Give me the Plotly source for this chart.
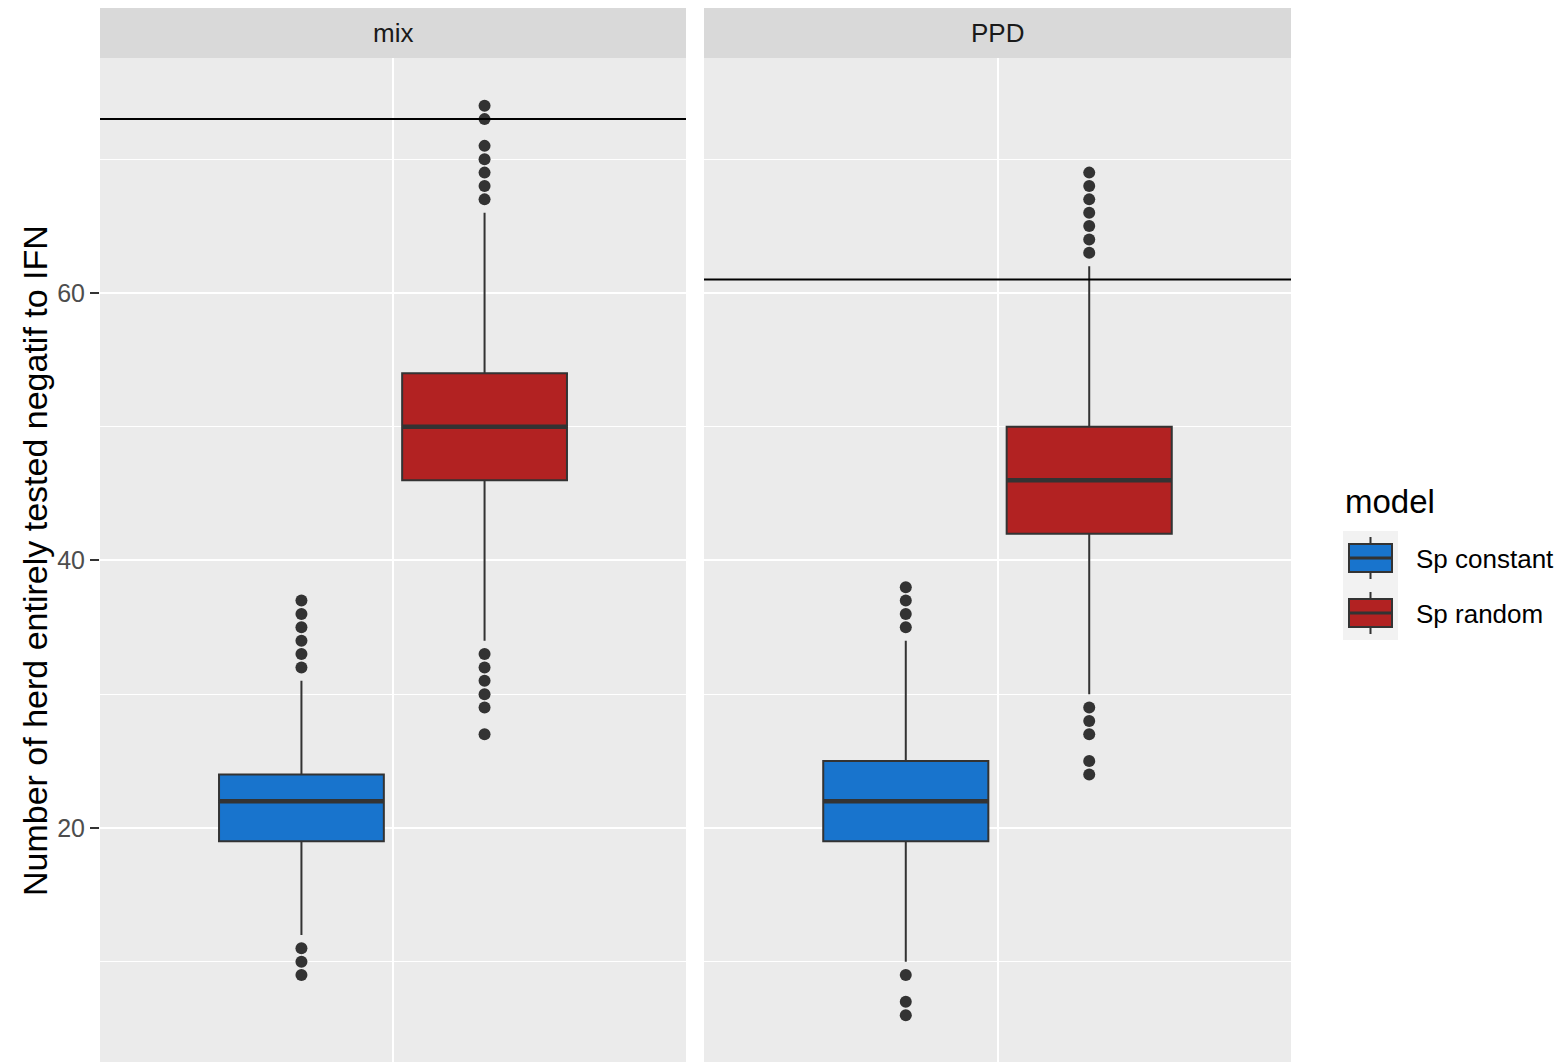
import plotly.graph_objects as go

# ---------------- data ----------------
panels = ["mix", "PPD"]
models = ["Sp constant", "Sp random"]
colors = ["#1874CD", "#B22222"]

mix_q1 = [19, 46]
mix_median = [22, 50]
mix_q3 = [24, 54]
mix_lower = [12, 34]
mix_upper = [31, 66]
mix_out_const = [9, 10, 11, 32, 33, 34, 35, 36, 37]
mix_out_rand = [27, 29, 30, 31, 32, 33, 67, 68, 69, 70, 71, 73, 74]

ppd_q1 = [19, 42]
ppd_median = [22, 46]
ppd_q3 = [25, 50]
ppd_lower = [10, 30]
ppd_upper = [34, 62]
ppd_out_const = [6, 7, 9, 35, 36, 37, 38]
ppd_out_rand = [24, 25, 27, 28, 29, 63, 64, 65, 66, 67, 68, 69]

hline_values = [73, 61]
y_ticks = [20, 40, 60]
y_minor = [10, 30, 50, 70]
y_title = "Number of herd entirely tested negatif to IFN"

# ---------------- geometry (page pixels; page body has 8px margin) ----------------
OFF = 8
W, H = 1565 - OFF, 1062 - OFF
L, R, T, B = 100 - OFF, 1291 - OFF, 58 - OFF, 1062 - OFF
def px_x(p):
    return (p - OFF - L) / (R - L)
def px_y(p):
    return (B - (p - OFF)) / (B - T)

FONT = "Liberation Sans, Arial, sans-serif"
DARK = "#333333"
centers = [0.8125, 1.1875]
bw = 0.3375

fig = go.Figure()

panel_data = [
    ("x", "y", mix_q1, mix_median, mix_q3, mix_lower, mix_upper, [mix_out_const, mix_out_rand]),
    ("x2", "y2", ppd_q1, ppd_median, ppd_q3, ppd_lower, ppd_upper, [ppd_out_const, ppd_out_rand]),
]

for xa, ya, q1, med, q3, lo, up, outs in panel_data:
    for i in range(2):
        c = centers[i]
        fig.add_trace(go.Box(
            x=[c], q1=[q1[i]], median=[med[i]], q3=[q3[i]],
            lowerfence=[lo[i]], upperfence=[up[i]],
            width=bw, whiskerwidth=0, fillcolor=colors[i],
            line=dict(color=DARK, width=2), boxpoints=False,
            name=models[i], showlegend=False, xaxis=xa, yaxis=ya,
        ))
        fig.add_trace(go.Scatter(
            x=[c - bw / 2, c + bw / 2], y=[med[i], med[i]], mode="lines",
            line=dict(color=DARK, width=4.5), showlegend=False,
            hoverinfo="skip", xaxis=xa, yaxis=ya,
        ))
        fig.add_trace(go.Scatter(
            x=[c] * len(outs[i]), y=outs[i], mode="markers",
            marker=dict(color=DARK, size=12), showlegend=False,
            xaxis=xa, yaxis=ya,
        ))

# horizontal reference lines
for xd, v in zip(["x domain", "x2 domain"], hline_values):
    fig.add_shape(type="line", xref=xd, yref="y", x0=0, x1=1, y0=v, y1=v,
                  line=dict(color="black", width=2), layer="above")

# strips
strip_top = px_y(8)
for xd, name in zip(["x domain", "x2 domain"], panels):
    fig.add_shape(type="rect", xref=xd, yref="paper", x0=0, x1=1, y0=1, y1=strip_top,
                  fillcolor="#D9D9D9", line=dict(width=0), layer="below")
    fig.add_annotation(xref=xd, yref="paper", x=0.5, y=px_y(33),
                       text=name, showarrow=False, xanchor="center", yanchor="middle",
                       font=dict(family=FONT, size=26, color="#1A1A1A"))

# y title
fig.add_annotation(xref="paper", yref="paper", x=px_x(35), y=px_y(561), text=y_title,
                   textangle=-90, showarrow=False, xanchor="center", yanchor="middle",
                   font=dict(family=FONT, size=34, color="black"))

# custom legend
fig.add_annotation(xref="paper", yref="paper", x=px_x(1343), y=px_y(501), text="model",
                   showarrow=False, xanchor="left", yanchor="middle",
                   font=dict(family=FONT, size=33, color="black"))
fig.add_shape(type="rect", xref="paper", yref="paper", x0=px_x(1343), x1=px_x(1398),
              y0=px_y(531), y1=px_y(640), fillcolor="#F2F2F2", line=dict(width=0))
key_tops = [531, 586]
for i in range(2):
    t = key_tops[i]
    fig.add_shape(type="line", xref="paper", yref="paper", x0=px_x(1370.5), x1=px_x(1370.5),
                  y0=px_y(t + 6), y1=px_y(t + 48), line=dict(color=DARK, width=2))
    fig.add_shape(type="rect", xref="paper", yref="paper", x0=px_x(1349), x1=px_x(1392),
                  y0=px_y(t + 13), y1=px_y(t + 41), fillcolor=colors[i],
                  line=dict(color=DARK, width=2))
    fig.add_shape(type="line", xref="paper", yref="paper", x0=px_x(1349), x1=px_x(1392),
                  y0=px_y(t + 27), y1=px_y(t + 27), line=dict(color=DARK, width=3))
    fig.add_annotation(xref="paper", yref="paper", x=px_x(1414), y=px_y(t + 28),
                       text=models[i], showarrow=False, xanchor="left", yanchor="middle",
                       font=dict(family=FONT, size=26, color="black"))

xaxis_common = dict(range=[0.4, 1.6], tickvals=[1], showticklabels=False, ticks="",
                    showgrid=True, gridcolor="white", gridwidth=2, zeroline=False,
                    showline=False, fixedrange=True)
yaxis_common = dict(range=[2.5, 77.57], tickvals=y_ticks, showgrid=True,
                    gridcolor="white", gridwidth=2, zeroline=False, showline=False,
                    minor=dict(tickvals=y_minor, showgrid=True, gridcolor="white",
                               gridwidth=1, ticks=""))

fig.update_layout(
    width=W, height=H,
    margin=dict(l=L, r=W - R, t=T, b=H - B, pad=0),
    paper_bgcolor="white", plot_bgcolor="#EBEBEB",
    showlegend=False,
    font=dict(family=FONT),
    xaxis=dict(domain=[0, px_x(686)], anchor="y", **xaxis_common),
    xaxis2=dict(domain=[px_x(704), 1], anchor="y2", **xaxis_common),
    yaxis=dict(anchor="x", ticks="outside", ticklen=9, tickwidth=2, tickcolor=DARK,
               tickfont=dict(family=FONT, size=25, color="#4D4D4D"), **yaxis_common),
    yaxis2=dict(anchor="x2", matches="y", showticklabels=False, ticks="", **yaxis_common),
)

fig.write_html("out.html")
